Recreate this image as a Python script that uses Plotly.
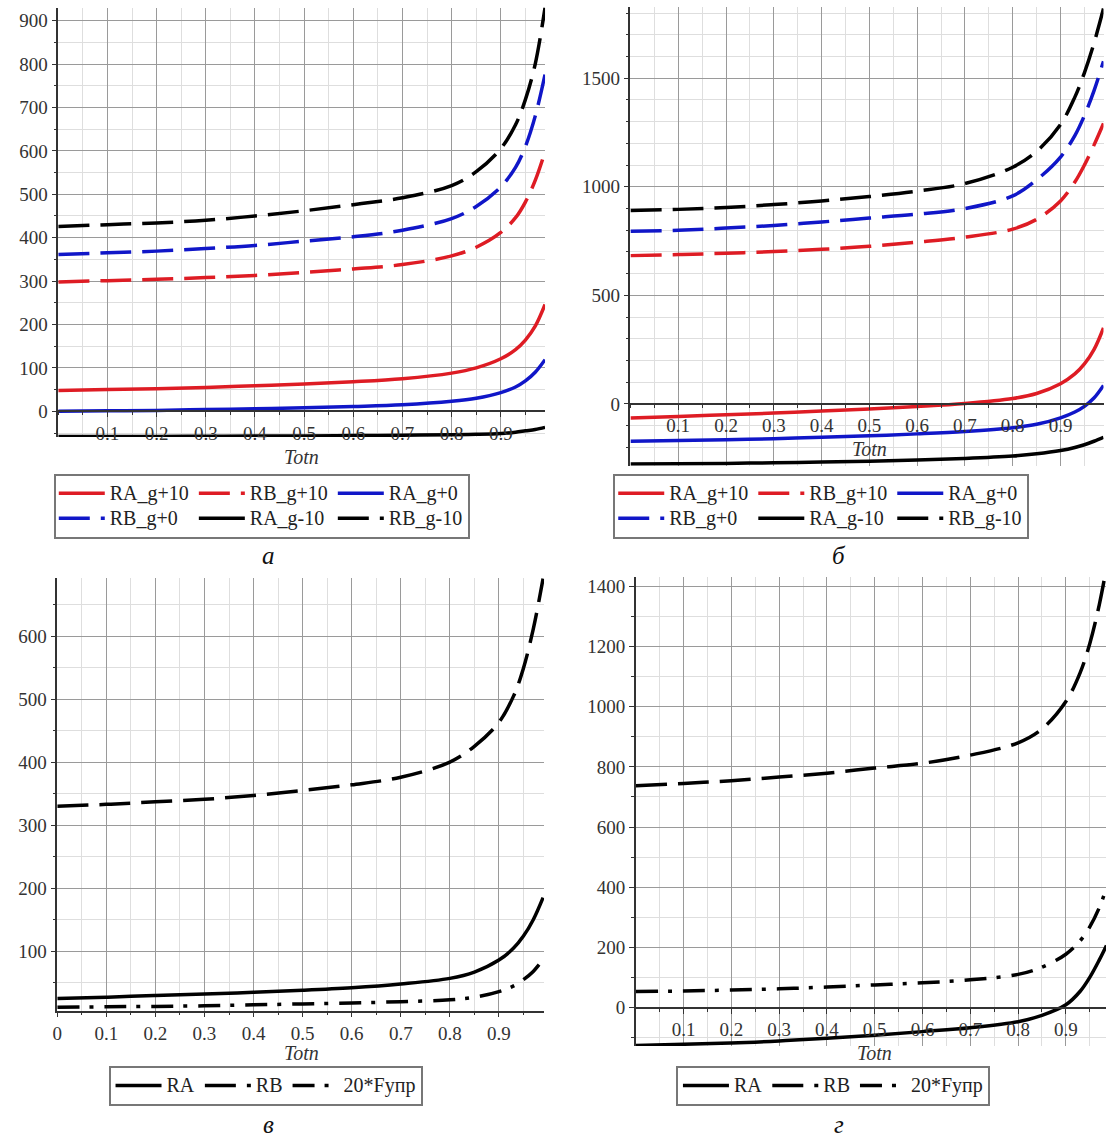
import plotly.graph_objects as go

W, H = 1106, 1139

# ---------------- data ----------------
x_top = [0, 0.1, 0.2, 0.3, 0.4, 0.5, 0.6, 0.7, 0.8, 0.85, 0.9, 0.93, 0.95, 0.97, 0.99]

# panel а
a_RA_gp10 = [48, 50, 52, 55, 59, 63, 68, 75, 88, 100, 121, 142, 164, 196, 246]
a_RB_gp10 = [298, 301, 304, 308, 313, 320, 328, 338, 358, 378, 412, 446, 482, 532, 598]
a_RA_g0 = [0, 1, 2, 4, 6, 8, 11, 15, 23, 30, 43, 56, 70, 90, 119]
a_RB_g0 = [361, 365, 369, 375, 382, 392, 402, 417, 444, 472, 517, 562, 610, 680, 776]
a_RA_gm10 = [-58, -58, -58, -57.5, -57, -57, -56, -55, -54, -53, -51, -48, -45, -42, -37]
a_RB_gm10 = [426, 430, 434, 440, 450, 462, 476, 492, 520, 552, 605, 660, 718, 800, 930]

# panel б
b_RA_gp10 = [-65, -58, -50, -42, -33, -23, -12, 2, 25, 48, 93, 138, 184, 250, 350]
b_RB_gp10 = [683, 688, 694, 702, 712, 726, 745, 768, 805, 850, 935, 1022, 1100, 1192, 1292]
b_RA_g0 = [-172, -169, -165, -160, -154, -147, -138, -127, -110, -94, -64, -37, -11, 27, 85]
b_RB_g0 = [795, 800, 810, 822, 838, 856, 874, 900, 958, 1032, 1137, 1236, 1328, 1442, 1578]
b_RA_gm10 = [-277, -276, -274, -271, -268, -264, -258, -251, -240, -230, -215, -201, -188, -172, -154]
b_RB_gm10 = [891, 896, 905, 918, 935, 955, 980, 1015, 1090, 1163, 1287, 1413, 1525, 1661, 1821]

# panel в
c_RA = [25, 27, 30, 32, 35, 38, 42, 48, 57, 67, 86, 105, 124, 150, 185]
c_RB = [330, 333, 337, 341, 347, 355, 364, 376, 400, 425, 463, 505, 549, 611, 691]
c_F = [11, 12, 12.5, 13.5, 15, 16.5, 18, 20, 23, 27, 36, 45, 55, 68, 87]

# panel г
x_d = [0, 0.1, 0.2, 0.3, 0.4, 0.5, 0.6, 0.7, 0.8, 0.85, 0.9, 0.93, 0.95, 0.97, 0.985]
d_RA = [-125, -121, -117, -110, -101, -91, -79, -66, -46, -25, 10, 55, 101, 159, 207]
d_RB = [737, 745, 754, 766, 779, 796, 812, 839, 880, 926, 1017, 1113, 1209, 1339, 1462]
d_F = [54, 56, 59, 63, 69, 76, 83, 93, 111, 135, 178, 223, 269, 333, 398]

# tick labels
x_ticks_inner = [0.1, 0.2, 0.3, 0.4, 0.5, 0.6, 0.7, 0.8, 0.9]
x_ticks_full = [0, 0.1, 0.2, 0.3, 0.4, 0.5, 0.6, 0.7, 0.8, 0.9]
y_ticks_a = [0, 100, 200, 300, 400, 500, 600, 700, 800, 900]
y_ticks_b = [0, 500, 1000, 1500]
y_ticks_c = [100, 200, 300, 400, 500, 600]
y_ticks_d = [0, 200, 400, 600, 800, 1000, 1200, 1400]

names_top = ["RA_g+10", "RB_g+10", "RA_g+0", "RB_g+0", "RA_g-10", "RB_g-10"]
names_bot = ["RA", "RB", "20*Fупр"]
captions = ["а", "б", "в", "г"]
axis_title = "Totn"

# ---------------- style ----------------
FONT = "Liberation Serif, Times New Roman, serif"
RED = "#de1c24"
BLUE = "#1016c8"
BLACK = "#000000"
MAJ = "#9a9a9a"
MIN = "#dedede"
AX = "#333333"
LW = 3.5
DASH = "31px,11px"
DASHDOT = "22px,10px,4px,11px"


def dom_x(l, r):
    return [l / W, r / W]


def dom_y(t, b):
    return [1 - b / H, 1 - t / H]


# panel geometry (pixels) and ranges
P = {
    "a": dict(xd=dom_x(53.5, 542.5), yd=dom_y(6.6, 436.3), xr=[0, 0.99], yr=[-59, 930]),
    "b": dict(xd=dom_x(628.3, 1103.5), yd=dom_y(5.6, 465.2), xr=[0, 0.99], yr=[-285, 1830]),
    "c": dict(xd=dom_x(52.5, 541.5), yd=dom_y(577.5, 1010.4), xr=[0, 0.992], yr=[6, 692]),
    "d": dict(xd=dom_x(633.7, 1106), yd=dom_y(576.6, 1046), xr=[0, 0.984], yr=[-127, 1430]),
}


def zero_pos(p):
    y0, y1 = p["yr"]
    d0, d1 = p["yd"]
    return d0 + (0 - y0) / (y1 - y0) * (d1 - d0)


def legname(s):
    return '<span style="font-size:20px">' + s + '</span>'


fig = go.Figure()

top_styles = [(RED, None), (RED, DASH), (BLUE, None), (BLUE, DASH), (BLACK, None), (BLACK, DASH)]
groups = ["1", "2", "3", "1", "2", "3"]

for series, xa, ya, leg, pre in [
    ([a_RA_gp10, a_RB_gp10, a_RA_g0, a_RB_g0, a_RA_gm10, a_RB_gm10], "x", "y", "legend", "a"),
    ([b_RA_gp10, b_RB_gp10, b_RA_g0, b_RB_g0, b_RA_gm10, b_RB_gm10], "x2", "y2", "legend2", "b"),
]:
    for ys, nm, (col, dash), g in zip(series, names_top, top_styles, groups):
        fig.add_trace(go.Scatter(
            x=x_top, y=ys, name=legname(nm), mode="lines", xaxis=xa, yaxis=ya, legend=leg,
            legendgroup=pre + g,
            line=dict(color=col, width=LW, dash=dash, shape="spline", smoothing=1.0),
        ))

bot_dash = [None, DASH, DASHDOT]
for xs, series, xa, ya, leg in [
    (x_top, [c_RA, c_RB, c_F], "x3", "y3", "legend3"),
    (x_d, [d_RA, d_RB, d_F], "x4", "y4", "legend4"),
]:
    for ys, nm, dash in zip(series, names_bot, bot_dash):
        fig.add_trace(go.Scatter(
            x=xs, y=ys, name=legname(nm), mode="lines", xaxis=xa, yaxis=ya, legend=leg,
            line=dict(color=BLACK, width=LW, dash=dash, shape="spline", smoothing=1.0),
        ))

tickfont = dict(family=FONT, size=19, color="#333333")


def xaxis_cfg(p, tickvals, free):
    cfg = dict(
        domain=p["xd"], range=p["xr"], tickmode="array", tickvals=tickvals,
        showgrid=True, gridcolor=MAJ, gridwidth=1, zeroline=False,
        showline=True, linecolor=AX, linewidth=1.5,
        ticks="outside", ticklen=5, tickcolor=AX, tickwidth=1.2,
        tickfont=tickfont, ticklabelstandoff=0,
        minor=dict(tickmode="linear", tick0=0, dtick=0.05, ticks="outside", ticklen=3,
                   tickcolor=AX, showgrid=True, gridcolor=MIN, gridwidth=1),
    )
    if free:
        cfg.update(anchor="free", position=zero_pos(p))
    return cfg


def yaxis_cfg(p, tickvals, minor_dtick, anchor):
    return dict(
        domain=p["yd"], range=p["yr"], tickmode="array", tickvals=tickvals,
        showgrid=True, gridcolor=MAJ, gridwidth=1, zeroline=False,
        showline=True, linecolor=AX, linewidth=1.5, anchor=anchor,
        ticks="outside", ticklen=5, tickcolor=AX, tickwidth=1.2,
        tickfont=tickfont,
        minor=dict(tickmode="linear", tick0=0, dtick=minor_dtick, ticks="outside", ticklen=3,
                   tickcolor=AX, showgrid=True, gridcolor=MIN, gridwidth=1),
    )


legfont = dict(family=FONT, size=17, color="#222222")


def legend_cfg(left_px, top_px):
    return dict(
        x=left_px / W, y=1 - top_px / H, xanchor="left", yanchor="top",
        orientation="h", traceorder="grouped", bgcolor="white",
        bordercolor="#777777", borderwidth=2, font=legfont, itemwidth=46,
        tracegroupgap=0,
    )


def legend_cfg_row(left_px, top_px):
    return dict(
        x=left_px / W, y=1 - top_px / H, xanchor="left", yanchor="top",
        orientation="h", traceorder="normal", bgcolor="white",
        bordercolor="#777777", borderwidth=2, font=legfont, itemwidth=46,
    )


annotations = []
for cap, (cx, cy) in zip(captions, [(265, 555), (838, 555), (265, 1124), (838, 1124)]):
    annotations.append(dict(text="<i>" + cap + "</i>", x=cx / W, y=1 - cy / H, xref="paper", yref="paper",
                            showarrow=False, font=dict(family=FONT, size=25, color="#111111"),
                            xanchor="center", yanchor="middle"))
for (tx, ty) in [(298, 456), (868, 448), (298, 1053), (873, 1053)]:
    annotations.append(dict(text="<i>" + axis_title + "</i>", x=tx / W, y=1 - ty / H, xref="paper", yref="paper",
                            showarrow=False, font=dict(family=FONT, size=20, color="#333333"),
                            xanchor="center", yanchor="middle"))

fig.update_layout(
    width=W, height=H, autosize=False,
    margin=dict(l=0, r=0, t=0, b=0, pad=0),
    paper_bgcolor="white", plot_bgcolor="white",
    font=dict(family=FONT),
    xaxis=xaxis_cfg(P["a"], x_ticks_inner, True),
    yaxis=yaxis_cfg(P["a"], y_ticks_a, 50, "x"),
    xaxis2=xaxis_cfg(P["b"], x_ticks_inner, True),
    yaxis2=yaxis_cfg(P["b"], y_ticks_b, 100, "x2"),
    xaxis3=xaxis_cfg(P["c"], x_ticks_full, False) | dict(anchor="y3"),
    yaxis3=yaxis_cfg(P["c"], y_ticks_c, 50, "x3"),
    xaxis4=xaxis_cfg(P["d"], x_ticks_inner, True),
    yaxis4=yaxis_cfg(P["d"], y_ticks_d, 100, "x4"),
    legend=legend_cfg(49, 473),
    legend2=legend_cfg(611, 473),
    legend3=legend_cfg_row(104, 1066),
    legend4=legend_cfg_row(674, 1066),
    annotations=annotations,
    showlegend=True,
)

fig.write_html("out.html", config={"displayModeBar": False},
               post_script="document.body.style.margin='0';document.body.style.overflow='hidden';")
